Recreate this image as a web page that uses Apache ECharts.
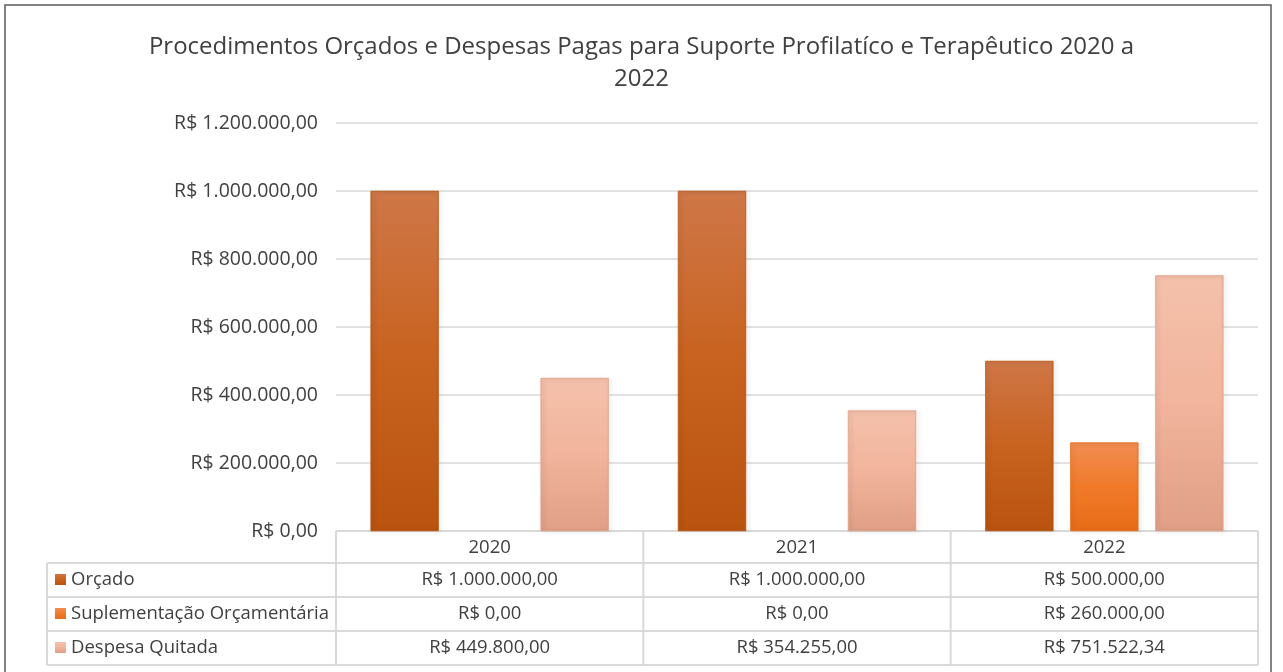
<!DOCTYPE html>
<html>
	<head>
		<meta charset="utf-8" />
		<title></title>
		<script src="https://cdn.jsdelivr.net/npm/echarts@6/dist/echarts.min.js" type="text/javascript" charset="utf-8"></script>
		<style type="text/css">
			html, body { margin: 0; padding: 0; background: #fff; }
			#chart { width: 1283px; height: 672px; }
		</style>
	</head>
	<body>
		<div id="chart"></div>
		<script type="text/javascript">
			var anos = ["2020", "2021", "2022"];
			var nomes = ["Orçado", "Suplementação Orçamentária", "Despesa Quitada"];
			var orcado = [1000000, 1000000, 500000];
			var suplementacao = [0, 0, 260000];
			var despesa = [449800, 354255, 751522.34];
			var yTicks = [0, 200000, 400000, 600000, 800000, 1000000, 1200000];

			var fonte = "'Open Sans', 'Noto Sans', sans-serif";
			var cores = [
				['#cf7748', '#c8621f', '#b9530f'],
				['#f28d52', '#f07a2a', '#e86c17'],
				['#f4c1ab', '#f2b49c', '#e09f86']
			];

			function moeda(v) {
				var s = v.toFixed(2).split(".");
				var inteiro = s[0].replace(/\B(?=(\d{3})+(?!\d))/g, ".");
				return "R$ " + inteiro + "," + s[1];
			}

			function grad(c) {
				return new echarts.graphic.LinearGradient(0, 0, 0, 1, [
					{offset: 0, color: c[0]},
					{offset: 0.5, color: c[1]},
					{offset: 1, color: c[2]}
				]);
			}

			var dados = [orcado, suplementacao, despesa];
			var series = [];
			for (var i = 0; i < dados.length; i++) {
				series.push({
					name: nomes[i],
					type: 'bar',
					// barras com valor zero ficam invisiveis (sem sombra)
					data: dados[i].map(function (v) {
						return v === 0 ? {value: v, itemStyle: {opacity: 0}} : v;
					}),
					barWidth: 68,
					barGap: '25%',
					itemStyle: {
						color: grad(cores[i]),
						borderColor: cores[i][2],
						borderWidth: 0.5,
						shadowBlur: 4,
						shadowOffsetX: 2,
						shadowOffsetY: 1,
						shadowColor: 'rgba(0,0,0,0.3)'
					}
				});
			}

			var chart = echarts.init(document.getElementById("chart"));
			chart.setOption({
				animation: false,
				title: {
					text: "Procedimentos Orçados e Despesas Pagas para Suporte Profilatíco e Terapêutico 2020 a\n2022",
					left: 'center',
					top: 26,
					textStyle: {
						fontFamily: fonte,
						fontSize: 24,
						fontWeight: 'normal',
						color: '#404040',
						lineHeight: 32
					}
				},
				grid: {left: 336, right: 25, top: 123, bottom: 141},
				xAxis: {
					type: 'category',
					data: anos,
					axisLine: {show: false},
					axisTick: {show: false},
					axisLabel: {show: false}
				},
				yAxis: {
					type: 'value',
					min: yTicks[0],
					max: yTicks[yTicks.length - 1],
					interval: yTicks[1] - yTicks[0],
					axisLine: {show: false},
					axisTick: {show: false},
					splitLine: {lineStyle: {color: '#d9d9d9', width: 1.5}},
					axisLabel: {
						margin: 18,
						fontFamily: fonte,
						fontSize: 19.5,
						color: '#404040',
						formatter: function (v) { return moeda(v); }
					}
				},
				series: series
			});

			// tabela de dados abaixo do grafico
			var centros = anos.map(function (a) {
				return chart.convertToPixel({xAxisIndex: 0}, a);
			});
			var meia = (centros[1] - centros[0]) / 2;
			var y0 = chart.convertToPixel({yAxisIndex: 0}, 0);
			var xEsq = 47;
			var xGrid = centros[0] - meia;
			var xFim = centros[2] + meia;
			var alt = 34;
			var linha = {stroke: '#d9d9d9', lineWidth: 2};
			var txt = {fontFamily: fonte, fontSize: 18.5, fill: '#404040'};
			var g = [];

			g.push({type: 'rect', shape: {x: 5, y: 5, width: 1266, height: 700},
				style: {fill: 'none', stroke: '#595959', lineWidth: 1.5}, silent: true});

			// linhas horizontais
			g.push({type: 'line', shape: {x1: xGrid, y1: y0, x2: xFim, y2: y0}, style: linha});
			for (var r = 1; r <= 4; r++) {
				var yy = y0 + 32 + (r - 1) * alt;
				g.push({type: 'line', shape: {x1: xEsq, y1: yy, x2: xFim, y2: yy}, style: linha});
			}
			var yBase = y0 + 32 + 3 * alt;
			// linhas verticais
			g.push({type: 'line', shape: {x1: xEsq, y1: y0 + 32, x2: xEsq, y2: yBase}, style: linha});
			for (var c = 0; c <= 3; c++) {
				var xx = xGrid + c * meia * 2;
				g.push({type: 'line', shape: {x1: xx, y1: y0, x2: xx, y2: yBase}, style: linha});
			}
			// cabecalho
			for (var c = 0; c < anos.length; c++) {
				g.push({type: 'text', x: centros[c], y: y0 + 17,
					style: Object.assign({text: anos[c], align: 'center', verticalAlign: 'middle'}, txt)});
			}
			// linhas de valores
			for (var r = 0; r < nomes.length; r++) {
				var yc = y0 + 32 + r * alt + alt / 2;
				g.push({type: 'rect', shape: {x: 55, y: yc - 6, width: 11, height: 11},
					style: {fill: grad(cores[r])}});
				g.push({type: 'text', x: 71, y: yc,
					style: Object.assign({text: nomes[r], align: 'left', verticalAlign: 'middle'}, txt)});
				for (var c = 0; c < anos.length; c++) {
					g.push({type: 'text', x: centros[c], y: yc,
						style: Object.assign({text: moeda(dados[r][c]), align: 'center', verticalAlign: 'middle'}, txt)});
				}
			}
			chart.setOption({graphic: g});
		</script>
	</body>
</html>
